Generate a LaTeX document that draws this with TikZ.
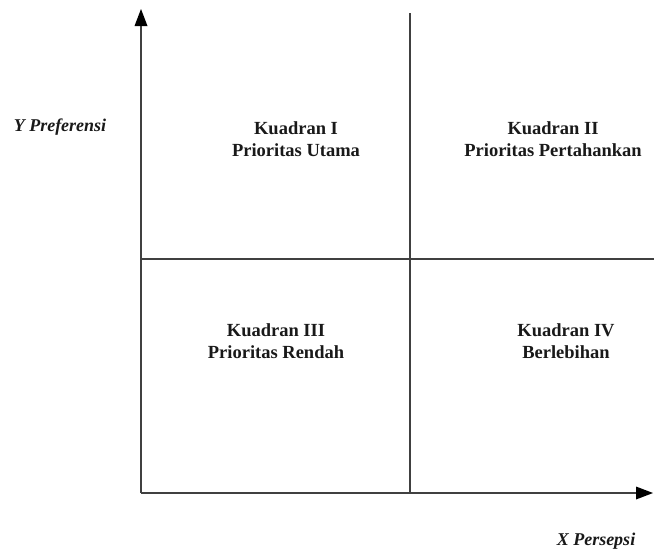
\documentclass[tikz,border=0pt]{standalone}
\usepackage{fontspec}
\setmainfont{Liberation Serif}
\usetikzlibrary{arrows.meta}
\tikzset{
  axisline/.style={line width=2pt, draw=black!75, -{Triangle[length=17pt,width=13pt,fill=black,line width=0pt]}},
  divline/.style={line width=2pt, draw=black!75},
  quadlabel/.style={align=center, inner sep=0pt, text=black!90, font=\fontsize{18.5}{22}\selectfont\bfseries},
  axislabel/.style={inner sep=0pt, text=black!90, font=\fontsize{18}{22}\selectfont\bfseries\itshape}
}
\begin{document}
\begin{tikzpicture}[x=1pt,y=-1pt]
\useasboundingbox (0,0) rectangle (654,552);
\coordinate (O) at (141,493);
\coordinate (ytop) at (141,9);
\coordinate (xend) at (653,493);
\coordinate (vtop) at (410,13);
\coordinate (vbot) at (410,493);
\coordinate (hleft) at (141,259);
\coordinate (hright) at (654,259);
\draw[divline] (vtop) -- (vbot);
\draw[divline] (hleft) -- (hright);
\draw[axisline] (O) -- (ytop);
\draw[axisline] (O) -- (xend);
\node[quadlabel] (q1) at (296,139) {Kuadran I\\Prioritas Utama};
\node[quadlabel] (q2) at (553,139) {Kuadran II\\Prioritas Pertahankan};
\node[quadlabel] (q3) at (276,341) {Kuadran III\\Prioritas Rendah};
\node[quadlabel] (q4) at (566,341) {Kuadran IV\\Berlebihan};
\node[axislabel] (ylab) at (60,127) {Y Preferensi};
\node[axislabel] (xlab) at (596,541) {X Persepsi};
\end{tikzpicture}
\end{document}
